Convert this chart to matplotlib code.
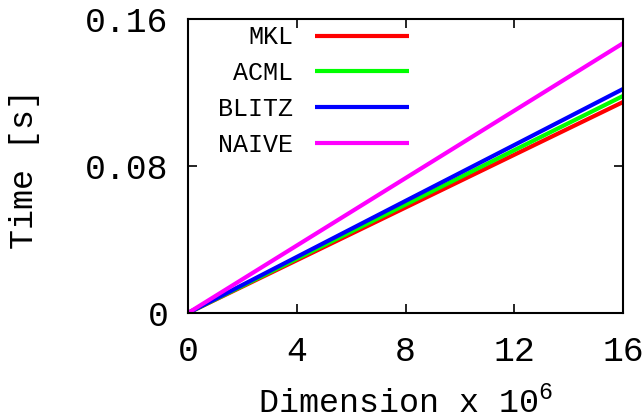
import matplotlib
matplotlib.use('Agg')
import matplotlib.pyplot as plt

# data (dimension in 10^6, time in s)
dims = [0, 4, 8, 12, 16]
mkl = [0.0, 0.0287, 0.0574, 0.0861, 0.1148]
acml = [0.0, 0.0295, 0.0590, 0.0886, 0.1181]
blitz = [0.0, 0.0305, 0.0610, 0.0914, 0.1219]
naive = [0.0, 0.0367, 0.0734, 0.1101, 0.1468]

labels = ['MKL', 'ACML', 'BLITZ', 'NAIVE']
colors = ['#ff0000', '#00ff00', '#0000ff', '#ff00ff']

xticks = [0, 4, 8, 12, 16]
yticks = [0, 0.08, 0.16]
yticklabels = ['0', '0.08', '0.16']

plt.rcParams['font.family'] = ['Liberation Mono', 'DejaVu Sans']
plt.rcParams['mathtext.fontset'] = 'custom'
plt.rcParams['mathtext.rm'] = 'Liberation Mono'


def main():
    fig = plt.figure(figsize=(6.43, 4.2), dpi=100)
    ax = fig.add_axes([188/643, 1 - 313/420, (623-188)/643, (313-19)/420])

    for ys, lab, c in zip([mkl, acml, blitz, naive], labels, colors):
        ax.plot(dims, ys, color=c, lw=3, label=lab, solid_capstyle='butt')

    ax.set_xlim(0, 16)
    ax.set_ylim(0, 0.16)
    ax.set_xticks(xticks)
    ax.set_xticklabels([str(t) for t in xticks])
    ax.set_yticks(yticks)
    ax.set_yticklabels(yticklabels)
    ax.tick_params(direction='in', length=6.5, width=1.2, top=True, right=True,
                   labelsize=25)
    ax.tick_params(axis='x', pad=16)
    ax.tick_params(axis='y', pad=14)
    for s in ax.spines.values():
        s.set_linewidth(1.5)

    ax.set_xlabel(r'Dimension x 10$^\mathrm{6}$', fontsize=24)
    ax.xaxis.set_label_coords(0.5, -0.248)
    ax.set_ylabel('Time [s]', fontsize=24)
    ax.yaxis.set_label_coords(-0.341, 0.49)

    ax.legend(loc='upper left', bbox_to_anchor=(0.069, 0.978), frameon=False,
              markerfirst=False, fontsize=18, handlelength=3.76,
              handletextpad=0.88, labelspacing=0.47, borderaxespad=0,
              borderpad=0)

    fig.savefig('out.png', dpi=100)
# end of main()


if __name__ == '__main__':
    main()
